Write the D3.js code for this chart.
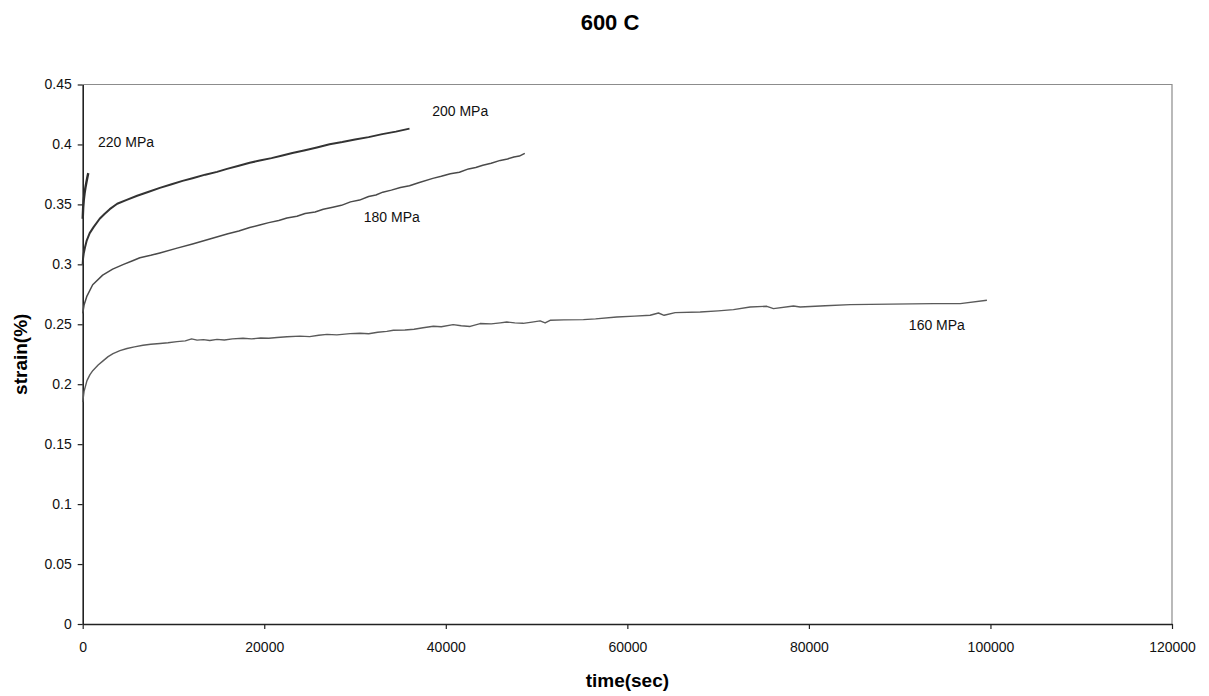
<!DOCTYPE html>
<html>
<head>
<meta charset="utf-8">
<script src="https://cdn.jsdelivr.net/npm/d3@7/dist/d3.min.js"></script>
<style>
  html, body { margin: 0; padding: 0; background: #fff; }
  svg { display: block; font-family: Arial, "Liberation Sans", sans-serif; }
</style>
</head>
<body>
<svg id="chart" width="1209" height="696"></svg>
<script>
// Creep tests at 600 C: strain (%) against time (s) for four stress levels.
const xTicks = [0, 20000, 40000, 60000, 80000, 100000, 120000];
const yTicks = [0, 0.05, 0.1, 0.15, 0.2, 0.25, 0.3, 0.35, 0.4, 0.45];

const s220 = [[0,0.338],[50,0.347],[120,0.354],[200,0.359],[300,0.364],[400,0.368],[500,0.372],[580,0.375],[620,0.376]];

const s200 = [[0,0.300],[40,0.305],[110,0.309],[250,0.314],[450,0.320],[770,0.326],[1200,0.331],[1870,0.338],
  [2400,0.342],[2980,0.346],[3800,0.3505],[4850,0.3538],[6000,0.3572],[7200,0.3603],[8500,0.3638],[9800,0.3668],
  [11000,0.3696],[12100,0.3718],[13500,0.3748],[14800,0.3771],[15900,0.3796],[17200,0.3822],[18400,0.3847],
  [19500,0.3866],[20800,0.3886],[22000,0.3907],[23100,0.3928],[24500,0.3952],[25800,0.3975],[27200,0.4002],
  [28600,0.4020],[30000,0.4041],[31500,0.4061],[33000,0.4086],[34500,0.4107],[36000,0.4132]];

const s180 = [[0,0.259],[150,0.266],[440,0.273],[1100,0.283],[2200,0.291],[3300,0.296],[4500,0.300],[5500,0.303],
  [6300,0.3055],[7500,0.3075],[8500,0.3095],[10400,0.3135],[12100,0.317],[14000,0.3212],[16000,0.3255],
  [17200,0.3278],[18400,0.3307],[19500,0.3328],[20500,0.3348],[21600,0.3366],[22500,0.3387],[23600,0.3401],
  [24500,0.3424],[25600,0.3436],[26500,0.3459],[27550,0.3477],[28500,0.3492],[29500,0.3521],[30500,0.3536],
  [31500,0.3566],[32300,0.3578],[33060,0.3602],[34000,0.3619],[35000,0.3641],[36000,0.3655],[37000,0.3681],
  [38570,0.3717],[39500,0.3734],[40500,0.3756],[41500,0.3768],[42500,0.3796],[43300,0.3808],[44080,0.3827],
  [45000,0.3843],[46000,0.3867],[46800,0.3879],[47500,0.3896],[48100,0.3903],[48700,0.3925]];

const s160 = [[0,0.185],[150,0.194],[470,0.203],[800,0.208],[1130,0.2115],[1700,0.216],[2240,0.2195],[2800,0.223],
  [3340,0.2255],[4100,0.228],[4880,0.2298],[5700,0.2312],[6640,0.2325],[7500,0.2333],[8520,0.234],[9400,0.2346],
  [10390,0.2355],[11300,0.2362],[12000,0.2378],[12600,0.2368],[13300,0.2372],[14000,0.2365],[14800,0.2374],
  [15600,0.2369],[16500,0.2378],[17660,0.2383],[18600,0.2378],[19600,0.2386],[20500,0.2384],[21410,0.239],
  [22500,0.2396],[23940,0.2401],[25000,0.2397],[26000,0.2409],[26920,0.2416],[28000,0.2412],[29460,0.2422],
  [30550,0.2425],[31500,0.2421],[32500,0.2433],[33500,0.2441],[34230,0.245],[35500,0.2452],[36500,0.2459],
  [37500,0.2471],[38630,0.2483],[39500,0.2479],[40810,0.2497],[41700,0.2488],[42680,0.2482],[43780,0.2506],
  [45000,0.2503],[46000,0.2512],[46720,0.2519],[47600,0.2512],[48520,0.2508],[49500,0.2518],[50390,0.2528],
  [50940,0.2511],[51490,0.2533],[53000,0.2537],[55160,0.2539],[56500,0.2545],[58840,0.2561],[60800,0.2568],
  [62510,0.2575],[63430,0.2594],[64050,0.2575],[65270,0.2597],[68020,0.2603],[70000,0.2612],[71690,0.2622],
  [73530,0.2644],[75370,0.265],[76100,0.2631],[78300,0.2653],[79040,0.2644],[81800,0.2655],[84550,0.2664],
  [89000,0.2668],[93730,0.2672],[96670,0.2672],[99610,0.27]];

const seriesNames = ["220 MPa", "200 MPa", "180 MPa", "160 MPa"];
// label anchor points in data units [time, strain]
const labelPos = [[4770, 0.4017], [41590, 0.4283], [34050, 0.3394], [94100, 0.2492]];

const series = [
  { name: seriesNames[0], data: s220, color: "#2e2e2e", width: 2.4 },
  { name: seriesNames[1], data: s200, color: "#333333", width: 2.0 },
  { name: seriesNames[2], data: s180, color: "#4a4a4a", width: 1.5 },
  { name: seriesNames[3], data: s160, color: "#5a5a5a", width: 1.4 }
];

const svg = d3.select("#chart");
const plotL = 82.7, plotR = 1172, plotT = 84.5, plotB = 624;

const x = d3.scaleLinear().domain([0, 120000]).range([plotL, plotR]);
const y = d3.scaleLinear().domain([0, 0.45]).range([plotB, plotT]);

// plot frame: light top/right border
svg.append("path")
  .attr("d", `M${plotL},${plotT}H${plotR}V${plotB}`)
  .attr("fill", "none").attr("stroke", "#8c8c8c").attr("stroke-width", 1.2);

const fmtY = d => String(+d.toFixed(2));

const yAxis = svg.append("g").attr("transform", `translate(${plotL},0)`)
  .call(d3.axisLeft(y).tickValues(yTicks).tickFormat(fmtY).tickSize(5).tickPadding(6).tickSizeOuter(0));
const xAxis = svg.append("g").attr("transform", `translate(0,${plotB})`)
  .call(d3.axisBottom(x).tickValues(xTicks).tickFormat(d3.format("d")).tickSize(5).tickPadding(13).tickSizeOuter(0));

[xAxis, yAxis].forEach(g => {
  g.select(".domain").attr("stroke", "#222").attr("stroke-width", 1.6);
  g.selectAll(".tick line").attr("stroke", "#222").attr("stroke-width", 1.2);
  g.selectAll(".tick text").attr("fill", "#111").style("font-size", "14px")
    .style("font-family", "Arial, 'Liberation Sans', sans-serif");
});

const line = d3.line().x(d => x(d[0])).y(d => y(d[1]));

svg.append("g").selectAll("path").data(series).join("path")
  .attr("d", d => line(d.data))
  .attr("fill", "none")
  .attr("stroke", d => d.color)
  .attr("stroke-width", d => d.width)
  .attr("stroke-linejoin", "round");

svg.append("g").selectAll("text").data(seriesNames).join("text")
  .attr("x", (d, i) => x(labelPos[i][0]))
  .attr("y", (d, i) => y(labelPos[i][1]))
  .attr("text-anchor", "middle")
  .attr("dominant-baseline", "central")
  .style("font-size", "14px")
  .attr("fill", "#111")
  .text(d => d);

svg.append("text")
  .attr("x", 610).attr("y", 22)
  .attr("text-anchor", "middle").attr("dominant-baseline", "central")
  .style("font-size", "22px").style("font-weight", "bold")
  .text("600 C");

svg.append("text")
  .attr("x", (plotL + plotR) / 2).attr("y", 680)
  .attr("text-anchor", "middle").attr("dominant-baseline", "central")
  .style("font-size", "19px").style("font-weight", "bold")
  .text("time(sec)");

svg.append("text")
  .attr("transform", `translate(20,${(plotT + plotB) / 2}) rotate(-90)`)
  .attr("text-anchor", "middle").attr("dominant-baseline", "central")
  .style("font-size", "19px").style("font-weight", "bold")
  .text("strain(%)");
</script>
</body>
</html>
